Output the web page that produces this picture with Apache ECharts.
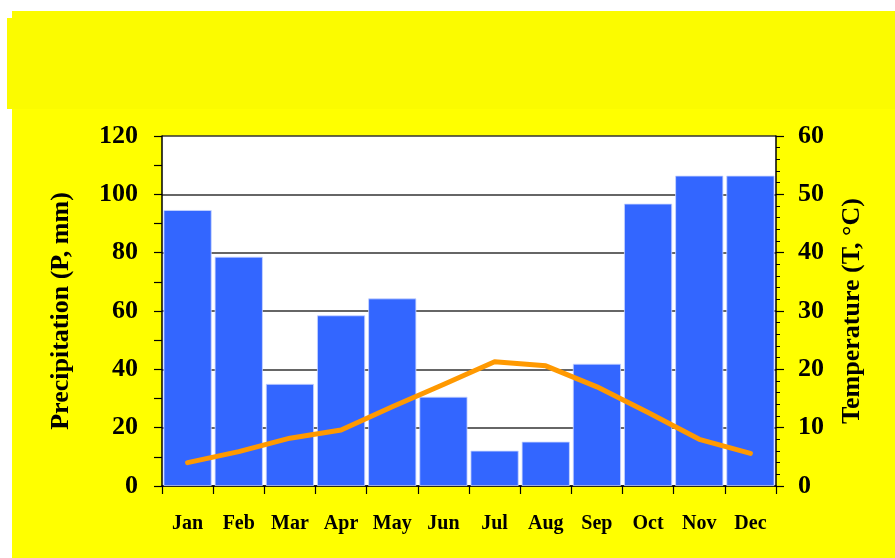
<!DOCTYPE html>
<html>
<head>
<meta charset="utf-8">
<script src="https://cdn.jsdelivr.net/npm/echarts@6/dist/echarts.min.js"></script>
<style>
html,body{margin:0;padding:0;background:#fff;}
#c{width:895px;height:558px;}
</style>
</head>
<body>
<div id="c"></div>
<script>
var months = ['Jan','Feb','Mar','Apr','May','Jun','Jul','Aug','Sep','Oct','Nov','Dec'];
var precipitation = [94.6, 78.6, 35.0, 58.5, 64.3, 30.6, 12.1, 15.2, 41.9, 96.8, 106.4, 106.4];
var temperature = [4.0, 5.9, 8.2, 9.6, 13.6, 17.4, 21.3, 20.6, 17.0, 12.6, 8.0, 5.6];
var precipTitle = 'Precipitation (P, mm)';
var tempTitle = 'Temperature (T, °C)';

var serif = '"Liberation Serif", "Times New Roman", serif';
var chart = echarts.init(document.getElementById('c'), null, {renderer: 'canvas'});
chart.setOption({
  backgroundColor: '#ffffff',
  animation: false,
  graphic: [
    {type: 'rect', z: -10, silent: true, shape: {x: 12, y: 11, width: 883, height: 98}, style: {fill: '#FBFB00'}},
    {type: 'rect', z: -10, silent: true, shape: {x: 7, y: 18, width: 6, height: 91}, style: {fill: '#FBFB00'}},
    {type: 'rect', z: -10, silent: true, shape: {x: 12, y: 109, width: 883, height: 449}, style: {fill: '#FFFF00'}}
  ],
  grid: {
    left: 162, right: 119, top: 136, bottom: 72,
    show: true, backgroundColor: '#ffffff', borderWidth: 0
  },
  xAxis: {
    type: 'category',
    data: months,
    boundaryGap: true,
    axisLine: {lineStyle: {color: '#000', width: 1.5}},
    axisTick: {show: true, alignWithLabel: false, length: 8, lineStyle: {color: '#000', width: 1.2}},
    axisLabel: {color: '#000', fontFamily: serif, fontWeight: 'bold', fontSize: 20, margin: 28},
    splitLine: {show: false}
  },
  yAxis: [
    {
      type: 'value', position: 'left', min: 0, max: 120, interval: 20,
      name: precipTitle, nameLocation: 'middle', nameRotate: 90, nameGap: 88,
      nameTextStyle: {color: '#000', fontFamily: serif, fontWeight: 'bold', fontSize: 26},
      axisLine: {show: true, lineStyle: {color: '#000', width: 1.5}},
      axisTick: {show: true, length: 8, lineStyle: {color: '#000', width: 1.2}},
      minorTick: {show: true, splitNumber: 2, length: 8, lineStyle: {color: '#000', width: 1.2}},
      axisLabel: {color: '#000', fontFamily: serif, fontWeight: 'bold', fontSize: 26, margin: 24},
      splitLine: {show: true, lineStyle: {color: '#333', width: 1.5}}
    },
    {
      type: 'value', position: 'right', min: 0, max: 60, interval: 10,
      name: tempTitle, nameLocation: 'middle', nameRotate: 90, nameGap: 63,
      nameTextStyle: {color: '#000', fontFamily: serif, fontWeight: 'bold', fontSize: 26},
      axisLine: {show: true, lineStyle: {color: '#000', width: 1.5}},
      axisTick: {show: true, length: 8, lineStyle: {color: '#000', width: 1.2}},
      minorTick: {show: true, splitNumber: 5, length: 4, lineStyle: {color: '#000', width: 1}},
      axisLabel: {color: '#000', fontFamily: serif, fontWeight: 'bold', fontSize: 26, margin: 22},
      splitLine: {show: false}
    }
  ],
  series: [
    {
      type: 'bar', data: precipitation, yAxisIndex: 0,
      barCategoryGap: '6%',
      itemStyle: {color: '#3366FF', borderColor: '#c9d6ff', borderWidth: 0.8},
      z: 2
    },
    {
      type: 'line', data: temperature, yAxisIndex: 1,
      symbol: 'none', smooth: false,
      lineStyle: {color: '#FF9900', width: 5, cap: 'round', join: 'round'},
      z: 5
    }
  ]
});
</script>
</body>
</html>
